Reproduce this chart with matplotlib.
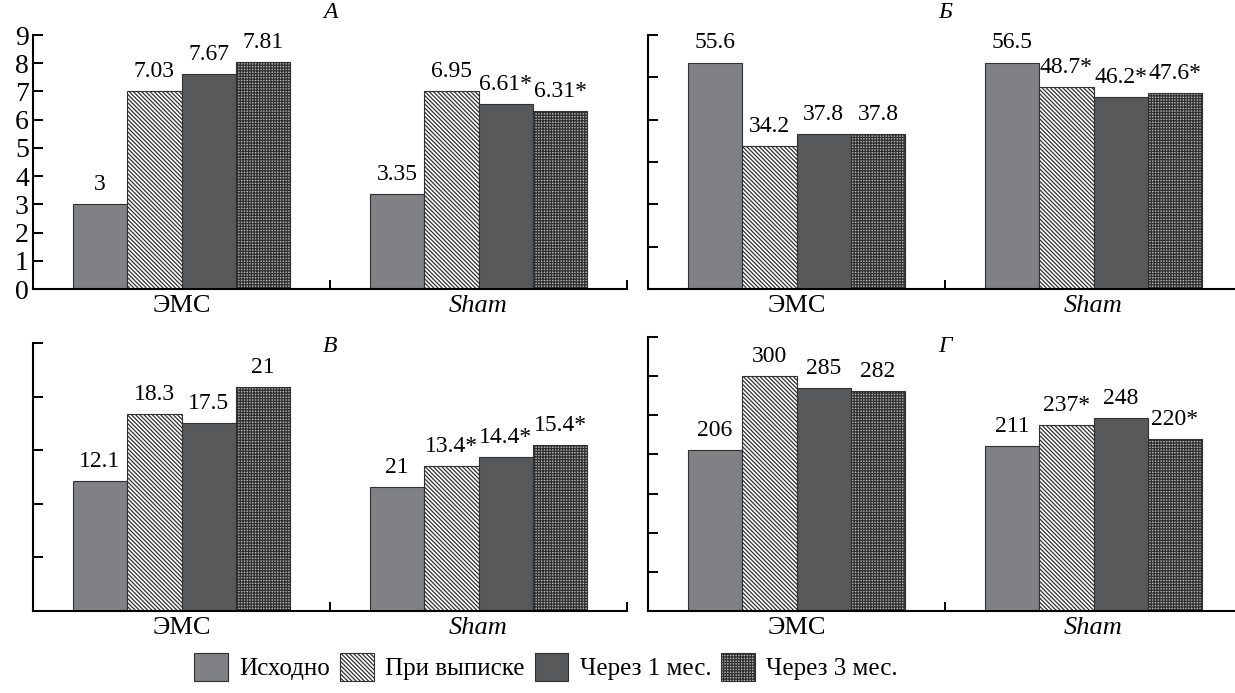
import matplotlib
matplotlib.use('Agg')
import matplotlib.pyplot as plt
from matplotlib.patches import Patch

plt.rcParams['font.family'] = 'serif'
plt.rcParams['font.serif'] = ['Liberation Serif', 'DejaVu Serif']
plt.rcParams['hatch.linewidth'] = 0.9

# categories and series
groups = ['ЭМС', 'Sham']
series = ['Исходно', 'При выписке', 'Через 1 мес.', 'Через 3 мес.']

# bar heights as drawn (axis units) and the printed labels
a_heights = [[3.0, 7.0, 7.62, 8.06], [3.37, 7.0, 6.56, 6.31]]
a_labels = [['3', '7.03', '7.67', '7.81'], ['3.35', '6.95', '6.61*', '6.31*']]
b_heights = [[53.5, 33.7, 36.5, 36.5], [53.5, 47.7, 45.4, 46.3]]
b_labels = [['55.6', '34.2', '37.8', '37.8'], ['56.5', '48.7*', '46.2*', '47.6*']]
v_heights = [[12.1, 18.35, 17.5, 20.9], [11.6, 13.5, 14.4, 15.5]]
v_labels = [['12.1', '18.3', '17.5', '21'], ['21', '13.4*', '14.4*', '15.4*']]
g_heights = [[205.5, 300, 284.5, 280.5], [211, 237, 247, 220]]
g_labels = [['206', '300', '285', '282'], ['211', '237*', '248', '220*']]

# bar styles per series
faces = ['#808185', 'white', '#58595b', '#b4b4b4']
hatches = [None, '\\\\\\\\\\\\\\\\', None, '++++++']

W, H = 1235, 693
fig = plt.figure(figsize=(W / 100, H / 100), dpi=100)


def add_ax(left, top, bottom, width=594):
    return fig.add_axes([left / W, 1 - bottom / H, width / W, (bottom - top) / H])


def draw_panel(ax, heights, labels, ymax, ystep, letter, letter_y, show_ticks=False):
    bw = 0.183
    for g in range(len(groups)):
        for i in range(len(series)):
            x = g + 0.5 + (i - 1.5) * bw
            ax.bar(x, heights[g][i], width=bw, color=faces[i], hatch=hatches[i],
                   edgecolor='#303030', linewidth=0.8, zorder=2)
            ax.annotate(labels[g][i], (x, heights[g][i]), xytext=(0, 6.5),
                        textcoords='offset points', ha='center', va='bottom',
                        fontsize=17)
    ax.set_xlim(0, 2)
    ax.set_ylim(0, ymax)
    for s in ['top', 'right']:
        ax.spines[s].set_visible(False)
    for s in ['left', 'bottom']:
        ax.spines[s].set_linewidth(1.5)
    ax.set_xticks([0, 1, 2])
    ax.set_xticklabels([])
    ax.set_xticks([0.5, 1.5], groups, minor=True)
    ax.tick_params(axis='x', which='major', direction='in', length=6.5, width=1.4)
    ax.tick_params(axis='x', which='minor', length=0, pad=4, labelsize=19)
    ax.get_xticklabels(minor=True)[1].set_style('italic')
    ax.set_yticks([ystep * k for k in range(int(round(ymax / ystep)) + 1)])
    ax.tick_params(axis='y', direction='in', length=7.5, width=1.4, pad=3,
                   labelsize=20, labelleft=show_ticks)
    # panel letter above the middle tick
    x_fig = ax.transData.transform((1, 0))[0] / W
    fig.text(x_fig, 1 - letter_y / H, letter, ha='center', va='center',
             fontsize=17, style='italic')


ax_a = add_ax(33, 35, 289)
draw_panel(ax_a, a_heights, a_labels, 9, 1, 'А', 13, show_ticks=True)
ax_b = add_ax(648, 35, 289)
draw_panel(ax_b, b_heights, b_labels, 60, 10, 'Б', 13)
ax_v = add_ax(33, 343, 611)
draw_panel(ax_v, v_heights, v_labels, 25, 5, 'В', 346)
ax_g = add_ax(648, 337, 611)
draw_panel(ax_g, g_heights, g_labels, 350, 50, 'Г', 346)

handles = [Patch(facecolor=faces[i], hatch=hatches[i], edgecolor='#303030',
                 linewidth=0.8) for i in range(len(series))]
fig.legend(handles, series, loc='center', bbox_to_anchor=(546 / W, 1 - 667 / H),
           ncol=4, frameon=False, fontsize=18, handlelength=1.35, handleheight=1.3,
           handletextpad=0.45, columnspacing=0.4)

fig.savefig('out.png', dpi=100)
